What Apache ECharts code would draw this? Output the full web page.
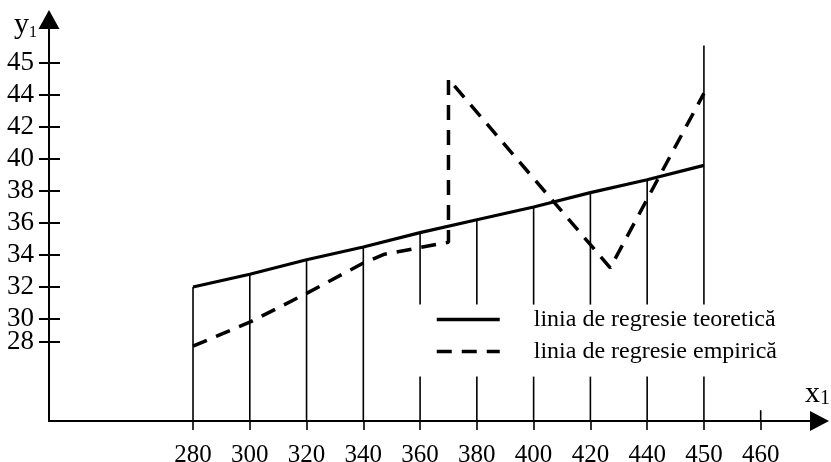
<!DOCTYPE html>
<html>
<head>
<meta charset="utf-8">
<script src="https://cdn.jsdelivr.net/npm/echarts@6/dist/echarts.min.js"></script>
<style>
html,body{margin:0;padding:0;background:#fff;}
#chart{width:831px;height:462px;}
</style>
</head>
<body>
<div id="chart"></div>
<script>
// ---- data ----
const xTickLabels = ['280','300','320','340','360','380','400','420','440','450','460'];
const xTickValues = [280,300,320,340,360,380,400,420,440,450,460];
const yTickLabels = ['28','30','32','34','36','38','40','42','44','45'];

const theoryName = 'linia de regresie teoretică';
const theoryX = [280,300,320,340,360,380,400,420,440,450];
const theoryY = [32.0,32.8,33.7,34.5,35.4,36.2,37.0,37.9,38.7,39.6];

const empiricalName = 'linia de regresie empirică';
const empiricalX = [280,300,320,340,347.5,370,370,427,450];
const empiricalY = [28.3,29.8,31.6,33.5,34.05,34.8,45.0,33.2,44.1];

// vertical reference lines (top value of each line)
const dropX   = [280,300,320,340,360,380,400,420,440,450,460];
const dropTop = [32.0,32.8,33.7,34.5,35.4,36.2,37.0,37.9,38.7,47.1,24.3];

// ---- helpers ----
function toIdx(x){
  const v = xTickValues;
  for(let i=0;i<v.length-1;i++){
    if(x<=v[i+1]) return i + (x-v[i])/(v[i+1]-v[i]);
  }
  return v.length-1;
}
const FONT = 'Liberation Serif';
const Y_MIN = 23.625, Y_MAX = 48.72;
const X_MIN = -2.537, X_MAX = 11.036;
// label positions on the y axis as drawn in the original
const yTickPos = [28.55,30,32,34,36,38,40,42,44,46];
const gapLow = 26.4, gapHigh = 30.9;
function nearestY(v){
  let k=0, d=Infinity;
  yTickPos.forEach((p,i)=>{const e=Math.abs(p-v); if(e<d){d=e;k=i;}});
  return k;
}
const yLabelStyle = {show:true, margin:15, fontFamily:FONT, fontSize:27, color:'#000',
  hideOverlap:false, formatter:(v)=>yTickLabels[nearestY(v)]};

const chart = echarts.init(document.getElementById('chart'), null, {renderer:'canvas'});

const option = {
  animation:false,
  backgroundColor:'#fff',
  grid:{left:49, right:11.5, top:19.5, bottom:41, containLabel:false, outerBoundsMode:'none'},
  legend:{
    orient:'vertical', left:435, top:307.5, padding:0,
    itemWidth:63, itemHeight:20, itemGap:8,
    itemStyle:{color:'rgba(0,0,0,0)', borderWidth:0, opacity:0},
    lineStyle:{width:3.5},
    textStyle:{fontFamily:FONT, fontSize:24, color:'#000', lineHeight:24, padding:[0,0,0,29]},
    data:[theoryName, empiricalName]
  },
  xAxis:{
    type:'value', min:X_MIN, max:X_MAX,
    name:'{v|x}{s|1}', nameLocation:'end', nameGap:-14.5,
    nameTextStyle:{align:'left', verticalAlign:'bottom', padding:[0,0,12,0],
      rich:{v:{fontFamily:FONT,fontSize:30,color:'#000'}, s:{fontFamily:FONT,fontSize:20,color:'#000',verticalAlign:'bottom'}}},
    axisLine:{show:true, onZero:false, lineStyle:{color:'#000', width:2}, symbol:['none','triangle'], symbolSize:[20,19]},
    axisTick:{show:true, inside:false, length:9, lineStyle:{color:'#000', width:1.6},
      customValues:xTickValues.map((v,i)=>i)},
    axisLabel:{show:true, margin:22, fontFamily:FONT, fontSize:25, color:'#000', hideOverlap:false,
      customValues:xTickValues.map((v,i)=>i),
      formatter:(v)=>xTickLabels[Math.round(v)]},
    splitLine:{show:false}
  },
  yAxis:[{
    type:'value', min:Y_MIN, max:Y_MAX,
    name:'{v|y}{s|1}', nameLocation:'end', nameGap:-6,
    nameTextStyle:{align:'right', verticalAlign:'middle', padding:[0,12,0,0],
      rich:{v:{fontFamily:FONT,fontSize:30,color:'#000'}, s:{fontFamily:FONT,fontSize:16,color:'#000',verticalAlign:'bottom'}}},
    axisLine:{show:true, onZero:false, lineStyle:{color:'#000', width:2}, symbol:['none','triangle'], symbolSize:[21,19]},
    axisTick:{show:true, inside:false, length:10, lineStyle:{color:'#000', width:2}, customValues:yTickPos},
    axisLabel:Object.assign({customValues:yTickPos.slice(1)}, yLabelStyle),
    splitLine:{show:false}
  },{
    type:'value', min:Y_MIN, max:Y_MAX, position:'left',
    axisLine:{show:false, onZero:false},
    axisTick:{show:true, inside:true, length:11, lineStyle:{color:'#000', width:2}, customValues:yTickPos},
    axisLabel:Object.assign({customValues:yTickPos.slice(0,1)}, yLabelStyle),
    splitLine:{show:false}
  }],
  series:[
    {
      type:'custom', name:'drop', silent:true, z:1,
      data: dropX.map((x,i)=>[toIdx(x), dropTop[i], (x>=360 && x<=450)?1:0]),
      renderItem:(params, api)=>{
        const xi = api.value(0), top = api.value(1), gap = api.value(2);
        const pTop = api.coord([xi, top]);
        const pBot = api.coord([xi, Y_MIN]);
        const style = {stroke:'#000', lineWidth:1.6};
        if(!gap){
          return {type:'line', shape:{x1:pTop[0],y1:pTop[1],x2:pBot[0],y2:pBot[1]}, style};
        }
        const pG1 = api.coord([xi, gapHigh]);
        const pG2 = api.coord([xi, gapLow]);
        return {type:'group', children:[
          {type:'line', shape:{x1:pTop[0],y1:pTop[1],x2:pG1[0],y2:pG1[1]}, style},
          {type:'line', shape:{x1:pG2[0],y1:pG2[1],x2:pBot[0],y2:pBot[1]}, style}
        ]};
      }
    },
    {
      type:'line', name:theoryName, z:3,
      data: theoryX.map((x,i)=>[toIdx(x), theoryY[i]]),
      showSymbol:false, symbol:'none',
      lineStyle:{color:'#000', width:3.2, type:'solid'},
      itemStyle:{color:'#000'}
    },
    {
      type:'line', name:empiricalName, z:2,
      data: empiricalX.map((x,i)=>[toIdx(x), empiricalY[i]]),
      showSymbol:false, symbol:'none',
      lineStyle:{color:'#000', width:3.5, type:[15,10]},
      itemStyle:{color:'#000'}
    }
  ]
};
chart.setOption(option);
</script>
</body>
</html>
